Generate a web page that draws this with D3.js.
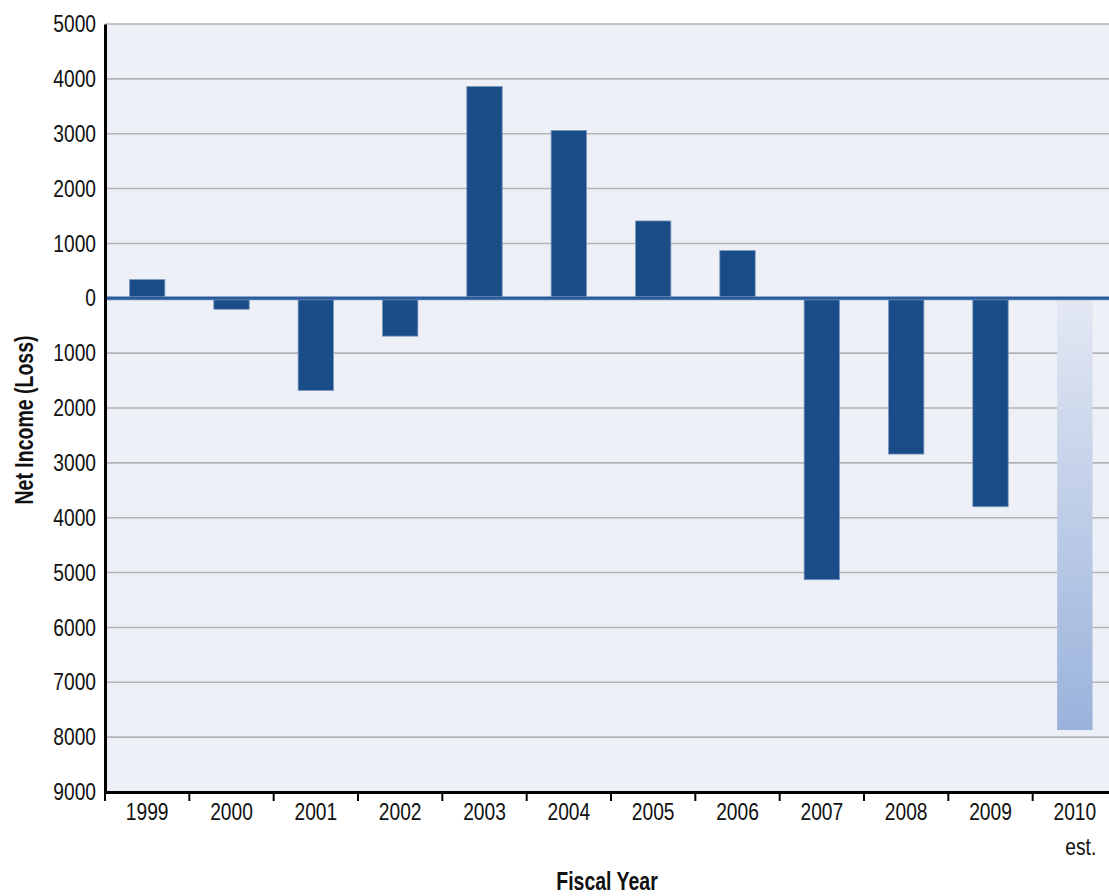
<!DOCTYPE html>
<html>
<head>
<meta charset="utf-8">
<script src="https://cdn.jsdelivr.net/npm/d3@7"></script>
<style>
  html, body { margin: 0; padding: 0; background: #ffffff; }
  svg { display: block; }
  text { font-family: "Liberation Sans", Arial, sans-serif; fill: #111; }
</style>
</head>
<body>
<svg id="chart" width="1109" height="896"></svg>
<script>
// Net income (loss) by fiscal year, in millions
const years = ["1999", "2000", "2001", "2002", "2003", "2004", "2005", "2006", "2007", "2008", "2009", "2010"];
const netIncome = [340, -200, -1680, -690, 3860, 3060, 1410, 870, -5130, -2840, -3800, -7870];
const estimated = [false, false, false, false, false, false, false, false, false, false, false, true];
const yTicks = [5000, 4000, 3000, 2000, 1000, 0, -1000, -2000, -3000, -4000, -5000, -6000, -7000, -8000, -9000];

const svg = d3.select("#chart");
const margin = { left: 105, right: -8, top: 24, bottom: 104 };
const W = 1109, H = 896;
const x0 = margin.left, x1 = W - margin.right;
const y0 = margin.top, y1 = H - margin.bottom;

const x = d3.scaleBand().domain(years).range([x0, x1]).padding(0);
const y = d3.scaleLinear().domain([-9000, 5000]).range([y1, y0]);
const barW = x.bandwidth() * 0.42;

// narrow the glyphs horizontally for a condensed look
function condense(sel, factor) {
  sel.each(function () {
    const len = this.getComputedTextLength();
    d3.select(this).attr("textLength", len * factor).attr("lengthAdjust", "spacingAndGlyphs");
  });
}

const defs = svg.append("defs");
const grad = defs.append("linearGradient").attr("id", "estGrad")
  .attr("x1", 0).attr("y1", 0).attr("x2", 0).attr("y2", 1);
grad.append("stop").attr("offset", "0%").attr("stop-color", "#e3e8f3");
grad.append("stop").attr("offset", "100%").attr("stop-color", "#9ab2dc");

// plot background
svg.append("rect").attr("x", x0).attr("y", y0).attr("width", x1 - x0).attr("height", y1 - y0)
  .attr("fill", "#edf0f6");

// horizontal gridlines
svg.append("g").selectAll("line").data(yTicks.filter(d => d !== 0 && d !== -9000)).join("line")
  .attr("x1", x0).attr("x2", W).attr("y1", d => y(d)).attr("y2", d => y(d))
  .attr("stroke", "#b3b3b3").attr("stroke-width", 1.6);

// bars
svg.append("g").selectAll("rect").data(years).join("rect")
  .attr("x", (d) => x(d) + (x.bandwidth() - barW) / 2)
  .attr("y", (d, i) => y(Math.max(0, netIncome[i])))
  .attr("width", barW)
  .attr("height", (d, i) => Math.abs(y(netIncome[i]) - y(0)))
  .attr("fill", (d, i) => estimated[i] ? "url(#estGrad)" : "#1a4d87")
  .attr("stroke", (d, i) => estimated[i] ? "none" : "#7c98c2")
  .attr("stroke-width", 0.8);

// zero line
svg.append("line").attr("x1", x0).attr("x2", W).attr("y1", y(0)).attr("y2", y(0))
  .attr("stroke", "#6f8fbf").attr("stroke-width", 4);
svg.append("line").attr("x1", x0).attr("x2", W).attr("y1", y(0)).attr("y2", y(0))
  .attr("stroke", "#2a5b9b").attr("stroke-width", 2.4);

// y axis
const yAxis = d3.axisLeft(y).tickValues(yTicks).tickSize(0).tickPadding(9)
  .tickFormat(d => String(Math.abs(d)));
const gy = svg.append("g").attr("transform", `translate(${x0},0)`).call(yAxis);
gy.select(".domain").attr("stroke", "#000").attr("stroke-width", 3);
gy.selectAll("text").style("font-size", "24px").attr("fill", "#111").call(condense, 0.8);

// x axis
const xAxis = d3.axisBottom(x).tickSize(0).tickPadding(11);
const gx = svg.append("g").attr("transform", `translate(0,${y1})`).call(xAxis);
gx.select(".domain").attr("stroke", "#000").attr("stroke-width", 3);
gx.selectAll("text").style("font-size", "24px").attr("fill", "#111").call(condense, 0.8);

// category boundary ticks
svg.append("g").selectAll("line").data(years).join("line")
  .attr("x1", d => x(d)).attr("x2", d => x(d))
  .attr("y1", y1).attr("y2", y1 + 9)
  .attr("stroke", "#000").attr("stroke-width", 2);

// estimate note
years.forEach((d, i) => {
  if (estimated[i]) {
    svg.append("text").attr("x", x(d) + x.bandwidth() / 2 + 6).attr("y", y1 + 63)
      .attr("text-anchor", "middle").style("font-size", "24px").text("est.")
      .call(condense, 0.8);
  }
});

// axis titles
svg.append("text").attr("x", (x0 + x1) / 2 - 4).attr("y", 890)
  .attr("text-anchor", "middle").style("font-size", "25px").style("font-weight", "bold")
  .text("Fiscal Year").call(condense, 0.78);
svg.append("text").attr("transform", `translate(33,${(y0 + y1) / 2 + 12}) rotate(-90)`)
  .attr("text-anchor", "middle").style("font-size", "25px").style("font-weight", "bold")
  .text("Net Income (Loss)").call(condense, 0.78);
</script>
</body>
</html>
